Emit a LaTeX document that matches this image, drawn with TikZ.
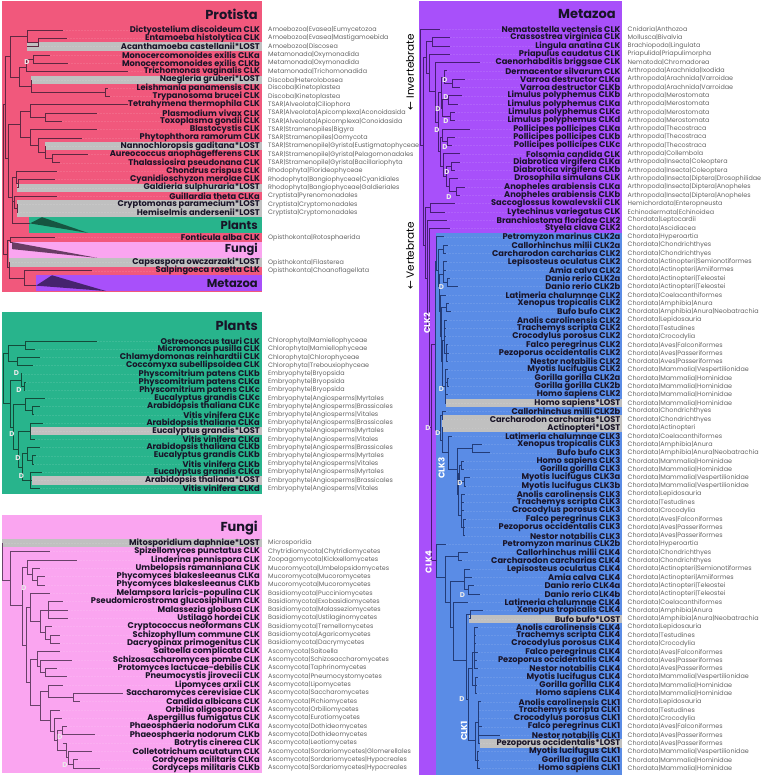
\documentclass[tikz,border=0pt]{standalone}
\usepackage{fontspec}
\setmainfont{Poppins}
\newfontfamily\arrowfont{DejaVu Sans}
\definecolor{procol}{RGB}{241,88,124}
\definecolor{plantcol}{RGB}{40,180,140}
\definecolor{plantdark}{RGB}{22,85,65}
\definecolor{fungcol}{RGB}{250,165,240}
\definecolor{fungdark}{RGB}{105,60,100}
\definecolor{metacol}{RGB}{168,80,250}
\definecolor{metadark}{RGB}{70,35,110}
\definecolor{vertcol}{RGB}{90,140,230}
\definecolor{lostgray}{RGB}{192,192,192}
\definecolor{namecol}{RGB}{25,20,40}
\definecolor{taxcol}{RGB}{100,100,100}
\definecolor{ptreec}{RGB}{95,40,65}
\definecolor{ltreec}{RGB}{20,75,58}
\definecolor{ftreec}{RGB}{105,65,105}
\definecolor{mtreec}{RGB}{70,30,115}
\definecolor{vtreec}{RGB}{35,60,120}
\newcommand\Ypr[1]{(30+8.3*(#1))}
\newcommand\Ypl[1]{(341+8.2*(#1))}
\newcommand\Yfu[1]{(543.3+8.33*(#1))}
\newcommand\Ymz[1]{(29.3+8.303*(#1))}
\def\NX{260}\def\TX{268}\def\BX{262}
\newcommand\leaf[5]{%
  \coordinate (#1) at (#2,{#3});
  \node[nm] (#1n) at (\NX,{#3}) {#4};
  \node[tx] (#1t) at (\TX,{#3}) {#5};
  \draw[guide] (#1) -- (#1n.west);}
\newcommand\lost[5]{%
  \fill[lostgray] (#2,{#3-4.15}) rectangle (\BX,{#3+4.15});
  \leaf{#1}{#2}{#3}{#4}{#5}}
\newcommand\br[3]{\foreach \c in {#3}{\draw[#1] (#2) |- (\c);}}
\begin{document}
\begin{tikzpicture}[x=1pt,y=-1pt,
  nm/.style={anchor=east,inner sep=0pt,text=namecol,font=\fontsize{8.3}{9}\selectfont\bfseries},
  tx/.style={anchor=west,inner sep=0pt,text=taxcol,font=\fontsize{6.4}{7}\selectfont},
  guide/.style={draw=white,draw opacity=0.1,dash pattern=on 1.5pt off 1.5pt,line width=0.4pt},
  ptree/.style={draw=ptreec,line width=0.8pt},
  ltree/.style={draw=ltreec,line width=0.8pt},
  ftree/.style={draw=ftreec,line width=0.8pt},
  mtree/.style={draw=mtreec,line width=0.8pt},
  vtree/.style={draw=vtreec,line width=0.8pt},
  title/.style={anchor=east,inner sep=0pt,text=namecol,font=\fontsize{13}{15}\selectfont\bfseries},
  btitle/.style={anchor=east,inner sep=0pt,text=namecol,font=\fontsize{11.5}{13}\selectfont\bfseries},
  dlab/.style={inner sep=0pt,text=white!92!black,font=\fontsize{7}{7}\selectfont\bfseries},
  clk/.style={inner sep=0pt,text=white,rotate=90,font=\fontsize{8.5}{9}\selectfont\bfseries},
  side/.style={inner sep=0pt,text=black,rotate=90,font=\fontsize{10.5}{11}\selectfont}]
\useasboundingbox (0,0) rectangle (761,777);
\fill[white] (0,0) rectangle (761,777);
%================= PROTISTA =================
\fill[procol] (2,1) rectangle (262,292);
\fill[plantcol] (29,{\Ypr{22.5}}) rectangle (262,{\Ypr{24.5}});
\fill[fungcol] (9,{\Ypr{25.5}}) rectangle (262,{\Ypr{27.5}});
\fill[metacol] (36,{\Ypr{29.5}}) rectangle (262,{\Ypr{31.5}});
\fill[plantdark] (30,{\Ypr{23.3}}) -- (42,{\Ypr{22.55}}) -- (88,{\Ypr{24.45}}) -- cycle;
\fill[fungdark] (12,{\Ypr{25.55}}) -- (12,{\Ypr{26.4}}) -- (97,{\Ypr{27.45}}) -- cycle;
\fill[metadark] (36,{\Ypr{30.8}}) -- (52,{\Ypr{29.55}}) -- (106,{\Ypr{31.45}}) -- cycle;
\node[title] (protT) at (258,14) {Protista};
\node[btitle] (protPl) at (258,{\Ypr{23.5}}) {Plants};
\node[btitle] (protFu) at (258,{\Ypr{26.5}}) {Fungi};
\node[btitle] (protMe) at (258,{\Ypr{30.5}}) {Metazoa};
\leaf{p0}{63}{\Ypr{0}}{Dictyostelium discoideum CLK}{Amoebozoa|Evasea|Eumycetozoa}
\leaf{p1}{67}{\Ypr{1}}{Entamoeba histolytica CLK}{Amoebozoa|Evasea|Mastigamoebida}
\lost{p2}{27}{\Ypr{2}}{Acanthamoeba castellanii*LOST}{Amoebozoa|Discosea}
\leaf{p3}{50}{\Ypr{3}}{Monocercomonoides exilis CLKa}{Metamonada|Oxymonadida}
\leaf{p4}{68}{\Ypr{4}}{Monocercomonoides exilis CLKb}{Metamonada|Oxymonadida}
\leaf{p5}{128}{\Ypr{5}}{Trichomonas vaginalis CLK}{Metamonada|Trichomonadida}
\lost{p6}{31}{\Ypr{6}}{Naegleria gruberi*LOST}{Discoba|Heterolobosea}
\leaf{p7}{108}{\Ypr{7}}{Leishmania panamensis CLK}{Discoba|Kinetoplastea}
\leaf{p8}{110}{\Ypr{8}}{Trypanosoma brucei CLK}{Discoba|Kinetoplastea}
\leaf{p9}{128}{\Ypr{9}}{Tetrahymena thermophila CLK}{TSAR|Alveolata|Ciliophora}
\leaf{p10}{97}{\Ypr{10}}{Plasmodium vivax CLK}{TSAR|Alveolata|Apicomplexa|Aconoidasida}
\leaf{p11}{62}{\Ypr{11}}{Toxoplasma gondii CLK}{TSAR|Alveolata|Apicomplexa|Conoidasida}
\leaf{p12}{97}{\Ypr{12}}{Blastocystis CLK}{TSAR|Stramenopiles|Bigyra}
\leaf{p13}{82}{\Ypr{13}}{Phytophthora ramorum CLK}{TSAR|Stramenopiles|Oomycota}
\lost{p14}{45}{\Ypr{14}}{Nannochloropsis gaditana*LOST}{TSAR|Stramenopile|Gyrista|Eustigmatophyceae}
\leaf{p15}{88}{\Ypr{15}}{Aureococcus anophagefferens CLK}{TSAR|Stramenopile|Gyrista|Pelagomonadales}
\leaf{p16}{60}{\Ypr{16}}{Thalassiosira pseudonana CLK}{TSAR|Stramenopile|Gyrista|Bacillariophyta}
\leaf{p17}{57}{\Ypr{17}}{Chondrus crispus CLK}{Rhodophyta|Florideophyceae}
\leaf{p18}{55}{\Ypr{18}}{Cyanidioschyzon merolae CLK}{Rhodophyta|Bangiophyceae|Cyanidiales}
\lost{p19}{17}{\Ypr{19}}{Galdieria sulphuraria*LOST}{Rhodophyta|Bangiophyceae|Galdieriales}
\leaf{p20}{57}{\Ypr{20}}{Guillardia theta CLKa}{Cryptista|Pyrenomonadales}
\lost{p21}{17}{\Ypr{21}}{Cryptomonas paramecium*LOST}{Cryptista|Cryptomonadales}
\lost{p22}{17}{\Ypr{22}}{Hemiselmis andersenii*LOST}{Cryptista|Cryptomonadales}
\leaf{p25}{55}{\Ypr{25}}{Fonticula alba CLK}{Opisthokonta|Rotosphaerida}
\lost{p28}{9}{\Ypr{28}}{Capsaspora owczarzaki*LOST}{Opisthokonta|Filasterea}
\leaf{p29}{92}{\Ypr{29}}{Salpingoeca rosetta CLK}{Opisthokonta|Choanoflagellata}
\coordinate (pam2) at (38,{\Ypr{1.5}});
\coordinate (pam) at (27,{\Ypr{0.75}});
\coordinate (pmn) at (33,{\Ypr{3.5}});
\coordinate (pmt) at (26,{\Ypr{4.5}});
\coordinate (pkin) at (105,{\Ypr{7.5}});
\coordinate (pdi) at (31,{\Ypr{6.8}});
\coordinate (pmd) at (19,{\Ypr{5.7}});
\coordinate (pamd) at (10,{\Ypr{3.2}});
\coordinate (papic) at (45,{\Ypr{10.5}});
\coordinate (palv) at (30,{\Ypr{9.8}});
\coordinate (pgy2) at (52,{\Ypr{15.5}});
\coordinate (pgy) at (45,{\Ypr{14.8}});
\coordinate (pst2) at (38,{\Ypr{13.9}});
\coordinate (pst) at (30,{\Ypr{12.9}});
\coordinate (pts) at (20,{\Ypr{11.4}});
\coordinate (prh2) at (18,{\Ypr{18.5}});
\coordinate (prh) at (16,{\Ypr{17.7}});
\coordinate (pcr2) at (17,{\Ypr{21.5}});
\coordinate (pcr) at (14,{\Ypr{20.7}});
\coordinate (pplt) at (30,{\Ypr{23.3}});
\coordinate (parc) at (12,{\Ypr{20.2}});
\coordinate (ptsa) at (8,{\Ypr{15.5}});
\coordinate (pup) at (5,{\Ypr{9}});
\coordinate (pfun) at (12,{\Ypr{25.6}});
\coordinate (po1) at (10,{\Ypr{25.3}});
\coordinate (pmet) at (36,{\Ypr{30.8}});
\coordinate (po3) at (24,{\Ypr{29.9}});
\coordinate (po2) at (9,{\Ypr{28.6}});
\coordinate (pop) at (7,{\Ypr{27}});
\coordinate (proot) at (3,{\Ypr{17}});
\br{ptree}{pam2}{p1,p2}
\br{ptree}{pam}{p0,pam2}
\br{ptree}{pmn}{p3,p4}
\br{ptree}{pmt}{pmn,p5}
\br{ptree}{pkin}{p7,p8}
\br{ptree}{pdi}{p6,pkin}
\br{ptree}{pmd}{pmt,pdi}
\br{ptree}{pamd}{pam,pmd}
\br{ptree}{papic}{p10,p11}
\br{ptree}{palv}{p9,papic}
\br{ptree}{pgy2}{p15,p16}
\br{ptree}{pgy}{p14,pgy2}
\br{ptree}{pst2}{p13,pgy}
\br{ptree}{pst}{p12,pst2}
\br{ptree}{pts}{palv,pst}
\br{ptree}{prh2}{p18,p19}
\br{ptree}{prh}{p17,prh2}
\br{ptree}{pcr2}{p21,p22}
\br{ptree}{pcr}{p20,pcr2}
\br{ptree}{parc}{prh,pcr,pplt}
\br{ptree}{ptsa}{pts,parc}
\br{ptree}{pup}{pamd,ptsa}
\br{ptree}{po1}{p25,pfun}
\br{ptree}{po3}{p29,pmet}
\br{ptree}{po2}{p28,po3}
\br{ptree}{pop}{po1,po2}
\br{ptree}{proot}{pup,pop}
\node[dlab] (pD1) at (27,{\Ypr{3.9}}) {D};
%================= PLANTS =================
\fill[plantcol] (2,312) rectangle (262,494);
\node[title] (plT) at (258,326) {Plants};
\leaf{l0}{97}{\Ypl{0}}{Ostreococcus tauri CLK}{Chlorophyta|Mamiellophyceae}
\leaf{l1}{35}{\Ypl{1}}{Micromonas pusilla CLK}{Chlorophyta|Mamiellophyceae}
\leaf{l2}{40}{\Ypl{2}}{Chlamydomonas reinhardtii CLK}{Chlorophyta|Chlorophyceae}
\leaf{l3}{33}{\Ypl{3}}{Coccomyxa subellipsoidea CLK}{Chlorophyta|Trebouxiophyceae}
\leaf{l4}{22}{\Ypl{4}}{Physcomitrium patens CLKb}{Embryophyte|Bryopsida}
\leaf{l5}{26}{\Ypl{5}}{Physcomitrium patens CLKa}{Embryophyte|Bryopsida}
\leaf{l6}{25}{\Ypl{6}}{Physcomitrium patens CLKc}{Embryophyte|Bryopsida}
\leaf{l7}{45}{\Ypl{7}}{Eucalyptus grandis CLKc}{Embryophyte|Angiosperms|Myrtales}
\leaf{l8}{40}{\Ypl{8}}{Arabidopsis thaliana CLKc}{Embryophyte|Angiosperms|Brassicales}
\leaf{l9}{34}{\Ypl{9}}{Vitis vinifera CLKc}{Embryophyte|Angiosperms|Vitales}
\leaf{l10}{43}{\Ypl{10}}{Arabidopsis thaliana CLKa}{Embryophyte|Angiosperms|Brassicales}
\lost{l11}{30}{\Ypl{11}}{Eucalyptus grandis*LOST}{Embryophyte|Angiosperms|Myrtales}
\leaf{l12}{35}{\Ypl{12}}{Vitis vinifera CLKa}{Embryophyte|Angiosperms|Vitales}
\leaf{l13}{40}{\Ypl{13}}{Arabidopsis thaliana CLKb}{Embryophyte|Angiosperms|Brassicales}
\leaf{l14}{36}{\Ypl{14}}{Eucalyptus grandis CLKb}{Embryophyte|Angiosperms|Myrtales}
\leaf{l15}{34}{\Ypl{15}}{Vitis vinifera CLKb}{Embryophyte|Angiosperms|Vitales}
\leaf{l16}{42}{\Ypl{16}}{Eucalyptus grandis CLKa}{Embryophyte|Angiosperms|Myrtales}
\lost{l17}{32}{\Ypl{17}}{Arabidopsis thaliana*LOST}{Embryophyte|Angiosperms|Brassicales}
\leaf{l18}{40}{\Ypl{18}}{Vitis vinifera CLKd}{Embryophyte|Angiosperms|Vitales}
\coordinate (lmam) at (25,{\Ypl{0.5}});
\coordinate (lchl) at (17,{\Ypl{2.5}});
\coordinate (lchlo) at (8,{\Ypl{1.5}});
\coordinate (lph2) at (24,{\Ypl{5.5}});
\coordinate (lph1) at (21,{\Ypl{4.75}});
\coordinate (lagc2) at (32,{\Ypl{8.5}});
\coordinate (lagc) at (25,{\Ypl{7.75}});
\coordinate (laga) at (30,{\Ypl{11}});
\coordinate (lagb2) at (32,{\Ypl{14.5}});
\coordinate (lagb) at (27,{\Ypl{13.75}});
\coordinate (lagd) at (30,{\Ypl{17}});
\coordinate (lagbd) at (22,{\Ypl{15.4}});
\coordinate (lagabd) at (18,{\Ypl{13.2}});
\coordinate (lang) at (13,{\Ypl{10.5}});
\coordinate (lemb) at (10,{\Ypl{7.6}});
\coordinate (lroot) at (3,{\Ypl{4.5}});
\br{ltree}{lmam}{l0,l1}
\br{ltree}{lchl}{l2,l3}
\br{ltree}{lchlo}{lmam,lchl}
\br{ltree}{lph2}{l5,l6}
\br{ltree}{lph1}{l4,lph2}
\br{ltree}{lagc2}{l8,l9}
\br{ltree}{lagc}{l7,lagc2}
\br{ltree}{laga}{l10,l11,l12}
\br{ltree}{lagb2}{l14,l15}
\br{ltree}{lagb}{l13,lagb2}
\br{ltree}{lagd}{l16,l17,l18}
\br{ltree}{lagbd}{lagb,lagd}
\br{ltree}{lagabd}{laga,lagbd}
\br{ltree}{lang}{lagc,lagabd}
\br{ltree}{lemb}{lph1,lang}
\br{ltree}{lroot}{lchlo,lemb}
\node[dlab] (lD1) at (16.5,{\Ypl{3.96}}) {D};
\node[dlab] (lD2) at (19,{\Ypl{5.98}}) {D};
\node[dlab] (lD3) at (12,{\Ypl{11.3}}) {D};
\node[dlab] (lD4) at (18,{\Ypl{14.27}}) {D};
\node[dlab] (lD5) at (21.5,{\Ypl{16.5}}) {D};
%================= FUNGI =================
\fill[fungcol] (2,515) rectangle (262,773);
\node[title] (fuT) at (258,528) {Fungi};
\lost{f0}{2}{\Yfu{0}}{Mitosporidium daphniae*LOST}{Microsporidia}
\leaf{f1}{50}{\Yfu{1}}{Spizellomyces punctatus CLK}{Chytridiomycota|Chytridiomycetes}
\leaf{f2}{77}{\Yfu{2}}{Linderina pennispora CLK}{Zoopagomycota|Kickxellomycetes}
\leaf{f3}{40}{\Yfu{3}}{Umbelopsis ramanniana CLK}{Mucoromycota|Umbelopsidomycetes}
\leaf{f4}{45}{\Yfu{4}}{Phycomyces blakesleeanus CLKa}{Mucoromycota|Mucoromycetes}
\leaf{f5}{45}{\Yfu{5}}{Phycomyces blakesleeanus CLKb}{Mucoromycota|Mucoromycetes}
\leaf{f6}{50}{\Yfu{6}}{Melampsora laricis-populina CLK}{Basidiomycota|Pucciniomycetes}
\leaf{f7}{63}{\Yfu{7}}{Pseudomicrostroma glucosiphilum CLK}{Basidiomycota|Exobasidiomycetes}
\leaf{f8}{68}{\Yfu{8}}{Malassezia globosa CLK}{Basidiomycota|Malasseziomycetes}
\leaf{f9}{68}{\Yfu{9}}{Ustilago hordei CLK}{Basidiomycota|Ustilaginomycetes}
\leaf{f10}{52}{\Yfu{10}}{Cryptococcus neoformans CLK}{Basidiomycota|Tremellomycetes}
\leaf{f11}{60}{\Yfu{11}}{Schizophyllum commune CLK}{Basidiomycota|Agaricomycetes}
\leaf{f12}{60}{\Yfu{12}}{Dacryopinax primogenitus CLK}{Basidiomycota|Dacrymycetes}
\leaf{f13}{60}{\Yfu{13}}{Saitoella complicata CLK}{Ascomycota|Saitoella}
\leaf{f14}{72}{\Yfu{14}}{Schizosaccharomyces pombe CLK}{Ascomycota|Schizosaccharomycetes}
\leaf{f15}{57}{\Yfu{15}}{Protomyces lactucae-debilis CLK}{Ascomycota|Taphrinomycetes}
\leaf{f16}{67}{\Yfu{16}}{Pneumocystis jirovecii CLK}{Ascomycota|Pneumocystomycetes}
\leaf{f17}{63}{\Yfu{17}}{Lipomyces arxii CLK}{Ascomycota|Lipomycetes}
\leaf{f18}{123}{\Yfu{18}}{Saccharomyces cerevisiae CLK}{Ascomycota|Saccharomycetes}
\leaf{f19}{80}{\Yfu{19}}{Candida albicans CLK}{Ascomycota|Pichiomycetes}
\leaf{f20}{60}{\Yfu{20}}{Orbilia oligospora CLK}{Ascomycota|Orbiliomycetes}
\leaf{f21}{62}{\Yfu{21}}{Aspergillus fumigatus CLK}{Ascomycota|Eurotiomycetes}
\leaf{f22}{67}{\Yfu{22}}{Phaeosphaeria nodorum CLKa}{Ascomycota|Dothideomycetes}
\leaf{f23}{95}{\Yfu{23}}{Phaeosphaeria nodorum CLKb}{Ascomycota|Dothideomycetes}
\leaf{f24}{63}{\Yfu{24}}{Botrytis cinerea CLK}{Ascomycota|Leotiomycetes}
\leaf{f25}{92}{\Yfu{25}}{Colletotrichum acutatum CLK}{Ascomycota|Sordariomycetes|Glomerellales}
\leaf{f26}{78}{\Yfu{26}}{Cordyceps militaris CLKa}{Ascomycota|Sordariomycetes|Hypocreales}
\leaf{f27}{100}{\Yfu{27}}{Cordyceps militaris CLKb}{Ascomycota|Sordariomycetes|Hypocreales}
\coordinate (fphy) at (37,{\Yfu{4.5}});
\coordinate (fmuc) at (32,{\Yfu{3.75}});
\coordinate (fzm) at (27,{\Yfu{2.9}});
\coordinate (fust) at (48,{\Yfu{8}});
\coordinate (fag2) at (50,{\Yfu{11.5}});
\coordinate (fagr) at (45,{\Yfu{10.75}});
\coordinate (fba2) at (40,{\Yfu{9.4}});
\coordinate (fba) at (30,{\Yfu{7.7}});
\coordinate (ftp3) at (45,{\Yfu{15.5}});
\coordinate (ftp2) at (40,{\Yfu{14.75}});
\coordinate (ftp) at (37,{\Yfu{13.9}});
\coordinate (fsc) at (73,{\Yfu{18.5}});
\coordinate (fls) at (48,{\Yfu{17.75}});
\coordinate (fcord) at (73,{\Yfu{26.5}});
\coordinate (fsord) at (68,{\Yfu{25.75}});
\coordinate (fleo) at (66,{\Yfu{24.9}});
\coordinate (fph) at (62,{\Yfu{22.5}});
\coordinate (fpz4) at (57,{\Yfu{23.7}});
\coordinate (fpz3) at (54,{\Yfu{22.6}});
\coordinate (fpz2) at (50,{\Yfu{21.3}});
\coordinate (fpz) at (40,{\Yfu{19.5}});
\coordinate (fas) at (30,{\Yfu{16.7}});
\coordinate (fdk) at (26,{\Yfu{12.2}});
\coordinate (fzmdk) at (22,{\Yfu{7.5}});
\coordinate (fc1) at (10,{\Yfu{4.5}});
\coordinate (froot) at (2.5,{\Yfu{2.25}});
\br{ftree}{fphy}{f4,f5}
\br{ftree}{fmuc}{f3,fphy}
\br{ftree}{fzm}{f2,fmuc}
\br{ftree}{fust}{f7,f8,f9}
\br{ftree}{fag2}{f11,f12}
\br{ftree}{fagr}{f10,fag2}
\br{ftree}{fba2}{fust,fagr}
\br{ftree}{fba}{f6,fba2}
\br{ftree}{ftp3}{f15,f16}
\br{ftree}{ftp2}{f14,ftp3}
\br{ftree}{ftp}{f13,ftp2}
\br{ftree}{fsc}{f18,f19}
\br{ftree}{fls}{f17,fsc}
\br{ftree}{fcord}{f26,f27}
\br{ftree}{fsord}{f25,fcord}
\br{ftree}{fleo}{f24,fsord}
\br{ftree}{fph}{f22,f23}
\br{ftree}{fpz4}{fph,fleo}
\br{ftree}{fpz3}{f21,fpz4}
\br{ftree}{fpz2}{f20,fpz3}
\br{ftree}{fpz}{fls,fpz2}
\br{ftree}{fas}{ftp,fpz}
\br{ftree}{fdk}{fba,fas}
\br{ftree}{fzmdk}{fzm,fdk}
\br{ftree}{fc1}{f1,fzmdk}
\br{ftree}{froot}{f0,fc1}
\node[dlab] (fD1) at (24,{\Yfu{5.35}}) {D};
\node[dlab] (fD2) at (60,{\Yfu{23.2}}) {D};
\node[dlab] (fD3) at (65,{\Yfu{26.6}}) {D};
%================= METAZOA =================
\def\NX{620.5}\def\TX{627.5}\def\BX{622}
\fill[metacol] (419,1) rectangle (622,775);
\fill[vertcol] (436,{\Ymz{24.5}}) rectangle (622,775);
\node[title] (mzT) at (616,14) {Metazoa};
\node[side] (invL) at (410,72) {{\arrowfont ←} Invertebrate};
\node[side] (verL) at (410,256) {{\arrowfont ←} Vertebrate};
\leaf{m0}{440}{\Ymz{0}}{Nematostella vectensis CLK}{Cnidaria|Anthozoa}
\leaf{m1}{450}{\Ymz{1}}{Crassostrea virginica CLK}{Mollusca|Bivalvia}
\leaf{m2}{450}{\Ymz{2}}{Lingula anatina CLK}{Brachiopoda|Lingulata}
\leaf{m3}{450}{\Ymz{3}}{Priapulus caudatus CLK}{Priapulida|Priapulimorpha}
\leaf{m4}{480}{\Ymz{4}}{Caenorhabditis briggsae CLK}{Nematoda|Chromadorea}
\leaf{m5}{447}{\Ymz{5}}{Dermacentor silvarum CLK}{Arthropoda|Arachnida|Ixodida}
\leaf{m6}{465}{\Ymz{6}}{Varroa destructor CLKa}{Arthropoda|Arachnida|Varroidae}
\leaf{m7}{460}{\Ymz{7}}{Varroa destructor CLKb}{Arthropoda|Arachnida|Varroidae}
\leaf{m8}{462}{\Ymz{8}}{Limulus polyphemus CLKb}{Arthropoda|Merostomata}
\leaf{m9}{458}{\Ymz{9}}{Limulus polyphemus CLKa}{Arthropoda|Merostomata}
\leaf{m10}{455}{\Ymz{10}}{Limulus polyphemus CLKc}{Arthropoda|Merostomata}
\leaf{m11}{455}{\Ymz{11}}{Limulus polyphemus CLKd}{Arthropoda|Merostomata}
\leaf{m12}{470}{\Ymz{12}}{Pollicipes pollicipes CLKa}{Arthropoda|Thecostraca}
\leaf{m13}{455}{\Ymz{13}}{Pollicipes pollicipes CLKb}{Arthropoda|Thecostraca}
\leaf{m14}{452}{\Ymz{14}}{Pollicipes pollicipes CLKc}{Arthropoda|Thecostraca}
\leaf{m15}{460}{\Ymz{15}}{Folsomia candida CLK}{Arthropoda|Collembola}
\leaf{m16}{460}{\Ymz{16}}{Diabrotica virgifera CLKa}{Arthropoda|Insecta|Coleoptera}
\leaf{m17}{455}{\Ymz{17}}{Diabrotica virgifera CLKb}{Arthropoda|Insecta|Coleoptera}
\leaf{m18}{458}{\Ymz{18}}{Drosophila simulans CLK}{Arthropoda|Insecta|Diptera|Drosophilidae}
\leaf{m19}{465}{\Ymz{19}}{Anopheles arabiensis CLKa}{Arthropoda|Insecta|Diptera|Anopheles}
\leaf{m20}{460}{\Ymz{20}}{Anopheles arabiensis CLKb}{Arthropoda|Insecta|Diptera|Anopheles}
\leaf{m21}{455}{\Ymz{21}}{Saccoglossus kowalevskii CLK}{Hemichordata|Enteropneusta}
\leaf{m22}{445}{\Ymz{22}}{Lytechinus variegatus CLK}{Echinodermata|Echinoidea}
\leaf{m23}{447}{\Ymz{23}}{Branchiostoma floridae CLK2}{Chordata|Leptocardii}
\leaf{m24}{450}{\Ymz{24}}{Styela clava CLK2}{Chordata|Ascidiacea}
\leaf{m25}{444}{\Ymz{25}}{Petromyzon marinus CLK2a}{Chordata|Hyperoartia}
\leaf{m26}{448}{\Ymz{26}}{Callorhinchus milii CLK2a}{Chordata|Chondrichthyes}
\leaf{m27}{446}{\Ymz{27}}{Carcharodon carcharias CLK2}{Chordata|Chondrichthyes}
\leaf{m28}{447}{\Ymz{28}}{Lepisosteus oculatus CLK2}{Chordata|Actinopteri|Semionotiformes}
\leaf{m29}{446}{\Ymz{29}}{Amia calva CLK2}{Chordata|Actinopteri|Amiiformes}
\leaf{m30}{450}{\Ymz{30}}{Danio rerio CLK2a}{Chordata|Actinopteri|Teleostei}
\leaf{m31}{458}{\Ymz{31}}{Danio rerio CLK2b}{Chordata|Actinopteri|Teleostei}
\leaf{m32}{446}{\Ymz{32}}{Latimeria chalumnae CLK2}{Chordata|Coelacanthiformes}
\leaf{m33}{449}{\Ymz{33}}{Xenopus tropicalis CLK2}{Chordata|Amphibia|Anura}
\leaf{m34}{451}{\Ymz{34}}{Bufo bufo CLK2}{Chordata|Amphibia|Anura|Neobatrachia}
\leaf{m35}{447}{\Ymz{35}}{Anolis carolinensis CLK2}{Chordata|Lepidosauria}
\leaf{m36}{446}{\Ymz{36}}{Trachemys scripta CLK2}{Chordata|Testudines}
\leaf{m37}{446}{\Ymz{37}}{Crocodylus porosus CLK2}{Chordata|Crocodylia}
\leaf{m38}{448}{\Ymz{38}}{Falco peregrinus CLK2}{Chordata|Aves|Falconiformes}
\leaf{m39}{449}{\Ymz{39}}{Pezoporus occidentalis CLK2}{Chordata|Aves|Passeriformes}
\leaf{m40}{448}{\Ymz{40}}{Nestor notabilis CLK2}{Chordata|Aves|Passeriformes}
\leaf{m41}{448}{\Ymz{41}}{Myotis lucifugus CLK2}{Chordata|Mammalia|Vespertilionidae}
\leaf{m42}{449}{\Ymz{42}}{Gorilla gorilla CLK2a}{Chordata|Mammalia|Hominidae}
\leaf{m43}{449}{\Ymz{43}}{Gorilla gorilla CLK2b}{Chordata|Mammalia|Hominidae}
\leaf{m44}{448}{\Ymz{44}}{Homo sapiens CLK2}{Chordata|Mammalia|Hominidae}
\lost{m45}{446}{\Ymz{45}}{Homo sapiens*LOST}{Chordata|Mammalia|Hominidae}
\leaf{m46}{446}{\Ymz{46}}{Callorhinchus milii CLK2b}{Chordata|Chondrichthyes}
\lost{m47}{441.7}{\Ymz{47}}{Carcharodon carcharias*LOST}{Chordata|Chondrichthyes}
\lost{m48}{441.7}{\Ymz{48}}{Actinopteri*LOST}{Chordata|Actinopteri}
\leaf{m49}{452}{\Ymz{49}}{Latimeria chalumnae CLK3}{Chordata|Coelacanthiformes}
\leaf{m50}{482}{\Ymz{50}}{Xenopus tropicalis CLK3}{Chordata|Amphibia|Anura}
\leaf{m51}{490}{\Ymz{51}}{Bufo bufo CLK3}{Chordata|Amphibia|Anura|Neobatrachia}
\leaf{m52}{464}{\Ymz{52}}{Homo sapiens CLK3}{Chordata|Mammalia|Hominidae}
\leaf{m53}{464}{\Ymz{53}}{Gorilla gorilla CLK3}{Chordata|Mammalia|Hominidae}
\leaf{m54}{470}{\Ymz{54}}{Myotis lucifugus CLK3a}{Chordata|Mammalia|Vespertilionidae}
\leaf{m55}{466}{\Ymz{55}}{Myotis lucifugus CLK3b}{Chordata|Mammalia|Vespertilionidae}
\leaf{m56}{465}{\Ymz{56}}{Anolis carolinensis CLK3}{Chordata|Lepidosauria}
\leaf{m57}{464}{\Ymz{57}}{Trachemys scripta CLK3}{Chordata|Testudines}
\leaf{m58}{464}{\Ymz{58}}{Crocodylus porosus CLK3}{Chordata|Crocodylia}
\leaf{m59}{466}{\Ymz{59}}{Falco peregrinus CLK3}{Chordata|Aves|Falconiformes}
\leaf{m60}{465}{\Ymz{60}}{Pezoporus occidentalis CLK3}{Chordata|Aves|Passeriformes}
\leaf{m61}{465}{\Ymz{61}}{Nestor notabilis CLK3}{Chordata|Aves|Passeriformes}
\leaf{m62}{446}{\Ymz{62}}{Petromyzon marinus CLK2b}{Chordata|Hyperoartia}
\leaf{m63}{468}{\Ymz{63}}{Callorhinchus milii CLK4}{Chordata|Chondrichthyes}
\leaf{m64}{462}{\Ymz{64}}{Carcharodon carcharias CLK4}{Chordata|Chondrichthyes}
\leaf{m65}{470}{\Ymz{65}}{Lepisosteus oculatus CLK4}{Chordata|Actinopteri|Semionotiformes}
\leaf{m66}{472}{\Ymz{66}}{Amia calva CLK4}{Chordata|Actinopteri|Amiiformes}
\leaf{m67}{474}{\Ymz{67}}{Danio rerio CLK4a}{Chordata|Actinopteri|Teleostei}
\leaf{m68}{480}{\Ymz{68}}{Danio rerio CLK4b}{Chordata|Actinopteri|Teleostei}
\leaf{m69}{468}{\Ymz{69}}{Latimeria chalumnae CLK4}{Chordata|Coelacanthiformes}
\leaf{m70}{483}{\Ymz{70}}{Xenopus tropicalis CLK4}{Chordata|Amphibia|Anura}
\lost{m71}{469}{\Ymz{71}}{Bufo bufo*LOST}{Chordata|Amphibia|Anura|Neobatrachia}
\leaf{m72}{478}{\Ymz{72}}{Anolis carolinensis CLK4}{Chordata|Lepidosauria}
\leaf{m73}{476}{\Ymz{73}}{Trachemys scripta CLK4}{Chordata|Testudines}
\leaf{m74}{476}{\Ymz{74}}{Crocodylus porosus CLK4}{Chordata|Crocodylia}
\leaf{m75}{478}{\Ymz{75}}{Falco peregrinus CLK4}{Chordata|Aves|Falconiformes}
\leaf{m76}{477}{\Ymz{76}}{Pezoporus occidentalis CLK4}{Chordata|Aves|Passeriformes}
\leaf{m77}{478}{\Ymz{77}}{Nestor notabilis CLK4}{Chordata|Aves|Passeriformes}
\leaf{m78}{478}{\Ymz{78}}{Myotis lucifugus CLK4}{Chordata|Mammalia|Vespertilionidae}
\leaf{m79}{477}{\Ymz{79}}{Gorilla gorilla CLK4}{Chordata|Mammalia|Hominidae}
\leaf{m80}{477}{\Ymz{80}}{Homo sapiens CLK4}{Chordata|Mammalia|Hominidae}
\leaf{m81}{481}{\Ymz{81}}{Anolis carolinensis CLK1}{Chordata|Lepidosauria}
\leaf{m82}{479}{\Ymz{82}}{Trachemys scripta CLK1}{Chordata|Testudines}
\leaf{m83}{479}{\Ymz{83}}{Crocodylus porosus CLK1}{Chordata|Crocodylia}
\leaf{m84}{482}{\Ymz{84}}{Falco peregrinus CLK1}{Chordata|Aves|Falconiformes}
\leaf{m85}{500}{\Ymz{85}}{Nestor notabilis CLK1}{Chordata|Aves|Passeriformes}
\lost{m86}{480}{\Ymz{86}}{Pezoporus occidentalis*LOST}{Chordata|Aves|Passeriformes}
\leaf{m87}{479}{\Ymz{87}}{Myotis lucifugus CLK1}{Chordata|Mammalia|Vespertilionidae}
\leaf{m88}{479}{\Ymz{88}}{Gorilla gorilla CLK1}{Chordata|Mammalia|Hominidae}
\leaf{m89}{480}{\Ymz{89}}{Homo sapiens CLK1}{Chordata|Mammalia|Hominidae}
% invertebrate nodes
\coordinate (zlop) at (432,{\Ymz{1.5}});
\coordinate (zvd) at (452,{\Ymz{6.5}});
\coordinate (zderm) at (444,{\Ymz{5.8}});
\coordinate (zlim1) at (448,{\Ymz{8.5}});
\coordinate (zlim2) at (450,{\Ymz{10.5}});
\coordinate (zlim) at (442,{\Ymz{9.5}});
\coordinate (zchel) at (441,{\Ymz{7.6}});
\coordinate (zpbc) at (447,{\Ymz{13.5}});
\coordinate (zpol) at (442,{\Ymz{13}});
\coordinate (zdia) at (451,{\Ymz{16.5}});
\coordinate (zano) at (456,{\Ymz{19.5}});
\coordinate (zdip) at (449,{\Ymz{18.9}});
\coordinate (zins) at (446,{\Ymz{17.7}});
\coordinate (zhex) at (443,{\Ymz{16.5}});
\coordinate (zpan) at (440,{\Ymz{14.7}});
\coordinate (zarth) at (438,{\Ymz{11.2}});
\coordinate (zecd2) at (435,{\Ymz{7.5}});
\coordinate (zecd) at (429,{\Ymz{5.3}});
\coordinate (zprot) at (426,{\Ymz{3.4}});
\coordinate (zamb) at (430,{\Ymz{21.5}});
% vertebrate nodes
\coordinate (v2ch) at (443,{\Ymz{26.5}});
\coordinate (v2dr) at (447,{\Ymz{30.5}});
\coordinate (v2ac) at (443,{\Ymz{29.5}});
\coordinate (v2am) at (446,{\Ymz{33.5}});
\coordinate (v2av) at (446,{\Ymz{39}});
\coordinate (v2rp) at (444,{\Ymz{37.5}});
\coordinate (v2go) at (447,{\Ymz{42.5}});
\coordinate (v2mm) at (445,{\Ymz{43}});
\coordinate (v2amn) at (442,{\Ymz{40}});
\coordinate (v2tet) at (441,{\Ymz{37}});
\coordinate (v2sar) at (440,{\Ymz{34}});
\coordinate (v2ost) at (439,{\Ymz{31}});
\coordinate (v2gn) at (438,{\Ymz{29}});
\coordinate (v2) at (436.5,{\Ymz{28}});
\coordinate (v3ch) at (442,{\Ymz{46.5}});
\coordinate (v3am) at (472,{\Ymz{50.5}});
\coordinate (v3hg) at (461,{\Ymz{52.5}});
\coordinate (v3my) at (464,{\Ymz{54.5}});
\coordinate (v3mam) at (459,{\Ymz{53.5}});
\coordinate (v3av) at (463,{\Ymz{60}});
\coordinate (v3sau) at (461,{\Ymz{58.5}});
\coordinate (v3amn) at (458,{\Ymz{56}});
\coordinate (v3tet) at (457,{\Ymz{53}});
\coordinate (v3sar) at (448,{\Ymz{51}});
\coordinate (v3ost) at (442,{\Ymz{49.5}});
\coordinate (v3) at (440,{\Ymz{48.3}});
\coordinate (v23) at (435,{\Ymz{38}});
\coordinate (v4dr) at (468,{\Ymz{67.5}});
\coordinate (v4ac) at (464,{\Ymz{66.5}});
\coordinate (v4ch) at (458,{\Ymz{63.5}});
\coordinate (v4am) at (470,{\Ymz{70.5}});
\coordinate (v4sau) at (474,{\Ymz{75}});
\coordinate (v4mam) at (475,{\Ymz{79}});
\coordinate (v4amn) at (472,{\Ymz{77}});
\coordinate (v1sau) at (478,{\Ymz{83.5}});
\coordinate (v1mam) at (477,{\Ymz{88}});
\coordinate (v1) at (475,{\Ymz{85.7}});
\coordinate (v41d) at (468,{\Ymz{80.7}});
\coordinate (v4tet) at (466,{\Ymz{76}});
\coordinate (v4sar) at (453,{\Ymz{72}});
\coordinate (v4ost) at (450,{\Ymz{69}});
\coordinate (v4gn) at (445,{\Ymz{66}});
\coordinate (v41) at (436.5,{\Ymz{64}});
\coordinate (vt) at (431,{\Ymz{48}});
\coordinate (zolf) at (429,{\Ymz{36}});
\coordinate (zchord) at (427,{\Ymz{30}});
\coordinate (zdeut) at (425,{\Ymz{26}});
\coordinate (zbil) at (423,{\Ymz{14}});
\coordinate (zroot) at (420,{\Ymz{7}});
\br{mtree}{zlop}{m1,m2}
\br{mtree}{zvd}{m6,m7}
\br{mtree}{zderm}{m5,zvd}
\br{mtree}{zlim1}{m8,m9}
\br{mtree}{zlim2}{m10,m11}
\br{mtree}{zlim}{zlim1,zlim2}
\br{mtree}{zchel}{zderm,zlim}
\br{mtree}{zpbc}{m13,m14}
\br{mtree}{zpol}{m12,zpbc}
\br{mtree}{zdia}{m16,m17}
\br{mtree}{zano}{m19,m20}
\br{mtree}{zdip}{m18,zano}
\br{mtree}{zins}{zdia,zdip}
\br{mtree}{zhex}{m15,zins}
\br{mtree}{zpan}{zpol,zhex}
\br{mtree}{zarth}{zchel,zpan}
\br{mtree}{zecd2}{m4,zarth}
\br{mtree}{zecd}{m3,zecd2}
\br{mtree}{zprot}{zlop,zecd}
\br{mtree}{zamb}{m21,m22}
\br{vtree}{v2ch}{m26,m27}
\br{vtree}{v2dr}{m30,m31}
\br{vtree}{v2ac}{m28,m29,v2dr}
\br{vtree}{v2am}{m33,m34}
\br{vtree}{v2av}{m38,m39,m40}
\br{vtree}{v2rp}{m35,m36,m37,v2av}
\br{vtree}{v2go}{m42,m43}
\br{vtree}{v2mm}{m41,v2go,m44,m45}
\br{vtree}{v2amn}{v2rp,v2mm}
\br{vtree}{v2tet}{v2am,v2amn}
\br{vtree}{v2sar}{m32,v2tet}
\br{vtree}{v2ost}{v2ac,v2sar}
\br{vtree}{v2gn}{v2ch,v2ost}
\br{vtree}{v2}{m25,v2gn}
\br{vtree}{v3ch}{m46,m47}
\br{vtree}{v3am}{m50,m51}
\br{vtree}{v3hg}{m52,m53}
\br{vtree}{v3my}{m54,m55}
\br{vtree}{v3mam}{v3hg,v3my}
\br{vtree}{v3av}{m59,m60,m61}
\br{vtree}{v3sau}{m56,m57,m58,v3av}
\br{vtree}{v3amn}{v3mam,v3sau}
\br{vtree}{v3tet}{v3am,v3amn}
\br{vtree}{v3sar}{m49,v3tet}
\br{vtree}{v3ost}{m48,v3sar}
\br{vtree}{v3}{v3ch,v3ost}
\br{vtree}{v23}{v2,v3}
\br{vtree}{v4dr}{m67,m68}
\br{vtree}{v4ac}{m65,m66,v4dr}
\br{vtree}{v4ch}{m63,m64}
\br{vtree}{v4am}{m70,m71}
\br{vtree}{v4sau}{m72,m73,m74,m75,m76,m77}
\br{vtree}{v4mam}{m78,m79,m80}
\br{vtree}{v4amn}{v4sau,v4mam}
\br{vtree}{v1sau}{m81,m82,m83,m84,m85,m86}
\br{vtree}{v1mam}{m87,m88,m89}
\br{vtree}{v1}{v1sau,v1mam}
\br{vtree}{v41d}{v4amn,v1}
\br{vtree}{v4tet}{v4am,v41d}
\br{vtree}{v4sar}{m69,v4tet}
\br{vtree}{v4ost}{v4ac,v4sar}
\br{vtree}{v4gn}{v4ch,v4ost}
\br{vtree}{v41}{m62,v4gn}
\br{mtree}{vt}{v23,v41}
\br{mtree}{zolf}{m24,vt}
\br{mtree}{zchord}{m23,zolf}
\br{mtree}{zdeut}{zamb,zchord}
\br{mtree}{zbil}{zprot,zdeut}
\br{mtree}{zroot}{m0,zbil}
\node[dlab] (mD1) at (445,{\Ymz{6.1}}) {D};
\node[dlab] (mD2) at (446,{\Ymz{8.1}}) {D};
\node[dlab] (mD3) at (438,{\Ymz{9.6}}) {D};
\node[dlab] (mD4) at (446,{\Ymz{11.04}}) {D};
\node[dlab] (mD5) at (437,{\Ymz{12.15}}) {D};
\node[dlab] (mD6) at (445,{\Ymz{14.2}}) {D};
\node[dlab] (mD7) at (447,{\Ymz{17.2}}) {D};
\node[dlab] (mD8) at (449,{\Ymz{20.2}}) {D};
\node[dlab] (mD9) at (441.5,{\Ymz{31}}) {D};
\node[dlab] (mD10) at (441.5,{\Ymz{43.3}}) {D};
\node[dlab] (mD11) at (428,{\Ymz{48}}) {D};
\node[dlab] (mD12) at (438,{\Ymz{48.6}}) {D};
\node[dlab] (mD13) at (460,{\Ymz{54.6}}) {D};
\node[dlab] (mD14) at (462.5,{\Ymz{68.1}}) {D};
\node[dlab] (mD15) at (462,{\Ymz{80.7}}) {D};
\node[clk] (clk2) at (427,323) {CLK2};
\node[clk] (clk3) at (441.5,468) {CLK3};
\node[clk] (clk4) at (428.5,562) {CLK4};
\node[clk] (clk1) at (464,731) {CLK1};
\end{tikzpicture}
\end{document}
